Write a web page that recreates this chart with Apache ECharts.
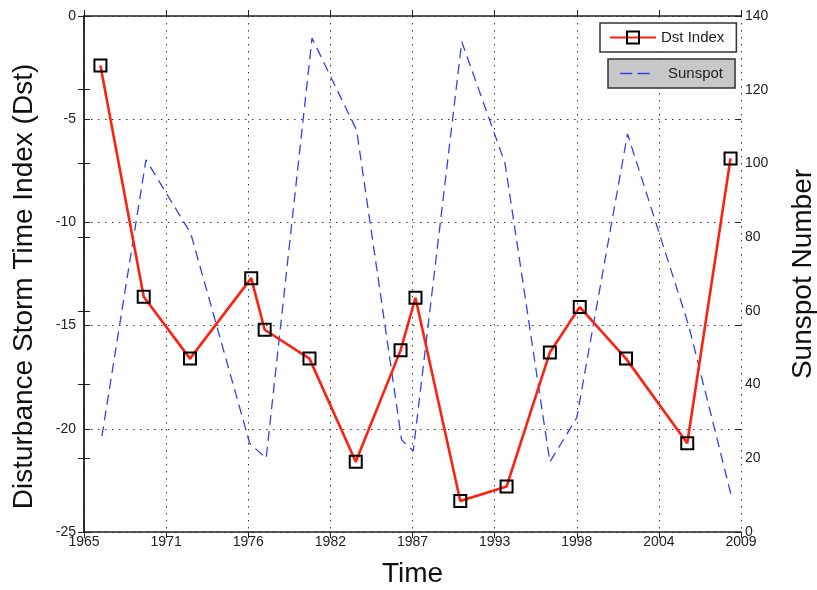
<!DOCTYPE html>
<html>
<head>
<meta charset="utf-8">
<script src="https://cdn.jsdelivr.net/npm/echarts@6/dist/echarts.min.js"></script>
<style>html,body{margin:0;padding:0;background:#fff;}#c{width:817px;height:590px;}</style>
</head>
<body>
<div id="c"></div>
<script>
// ---- data ----
const dstYears = [1966.1, 1969.0, 1972.1, 1976.2, 1977.1, 1980.1, 1983.2, 1986.2, 1987.2, 1990.2, 1993.3, 1996.2, 1998.2, 2001.3, 2005.4, 2008.3];
const dstValues = [-2.4, -13.6, -16.6, -12.7, -15.2, -16.6, -21.6, -16.2, -13.65, -23.5, -22.8, -16.3, -14.1, -16.6, -20.7, -6.9];
const sunYears = [1966.2, 1969.15, 1972.15, 1976.1, 1977.2, 1980.27, 1983.26, 1986.27, 1987.05, 1990.3, 1993.2, 1996.2, 1998.0, 2001.4, 2005.5, 2008.4];
const sunValues = [26, 101, 81, 24, 20, 134, 109, 25, 22, 133, 100, 19, 31, 108, 56, 9];
const xStart = 1965, xEnd = 2009, xStep = 5.5;
const dstRange = [-25, 0, 5];
const sunRange = [0, 140, 20];

const FONT = 'Liberation Sans, Arial, sans-serif';
const AX = '#222';
const toX = y => +(y - xStart).toFixed(3);

const chart = echarts.init(document.getElementById('c'), null, {renderer: 'canvas'});
const tickInside = {show: true, inside: true, length: 6, lineStyle: {color: AX, width: 1}};
const dotted = {show: true, lineStyle: {color: '#3a3a3a', width: 1, type: [1.5, 5.5]}};

chart.setOption({
  animation: false,
  backgroundColor: '#fff',
  grid: {left: 84, right: 76, top: 16, bottom: 58, containLabel: false, outerBoundsMode: 'none'},
  xAxis: [
    {type: 'value', position: 'bottom', min: 0, max: xEnd - xStart, interval: xStep,
     name: 'Time', nameLocation: 'middle', nameGap: 28,
     nameTextStyle: {fontFamily: FONT, fontSize: 28, color: '#111'},
     axisLine: {show: true, lineStyle: {color: AX, width: 1.5}},
     axisTick: tickInside,
     axisLabel: {margin: 3, fontFamily: FONT, fontSize: 14, color: '#222',
       formatter: v => String(Math.round(xStart + v)), showMinLabel: true, showMaxLabel: true},
     splitLine: dotted},
    {type: 'value', position: 'top', min: 0, max: xEnd - xStart, interval: xStep,
     axisLine: {show: true, lineStyle: {color: AX, width: 1.5}},
     axisTick: tickInside, axisLabel: {show: false}, splitLine: {show: false}}
  ],
  yAxis: [
    {type: 'value', position: 'left', min: dstRange[0], max: dstRange[1], interval: dstRange[2],
     name: 'Disturbance Storm Time Index (Dst)', nameLocation: 'middle', nameGap: 46,
     nameTextStyle: {fontFamily: FONT, fontSize: 28, color: '#111', padding: [0, 25, 0, 0]},
     axisLine: {show: true, lineStyle: {color: AX, width: 1.5}},
     axisTick: tickInside,
     axisLabel: {margin: 8, fontFamily: FONT, fontSize: 14, color: '#222'},
     splitLine: dotted},
    {type: 'value', position: 'right', min: sunRange[0], max: sunRange[1], interval: sunRange[2],
     name: 'Sunspot Number', nameLocation: 'middle', nameGap: 48,
     nameTextStyle: {fontFamily: FONT, fontSize: 28, color: '#111'},
     axisLine: {show: true, lineStyle: {color: AX, width: 1.5}},
     axisTick: tickInside,
     axisLabel: {margin: 4, fontFamily: FONT, fontSize: 14, color: '#222'},
     splitLine: {show: false}},
    {type: 'value', position: 'left', min: sunRange[0], max: sunRange[1], interval: sunRange[2],
     axisLine: {show: false}, axisTick: tickInside, axisLabel: {show: false}, splitLine: {show: false}},
    {type: 'value', position: 'right', min: dstRange[0], max: dstRange[1], interval: dstRange[2],
     axisLine: {show: false}, axisTick: tickInside, axisLabel: {show: false}, splitLine: {show: false}}
  ],
  legend: [
    {data: [{name: 'Dst Index'}], left: 600, top: 23, orient: 'vertical',
     padding: [7, 12, 7, 9], itemWidth: 46, itemHeight: 15,
     backgroundColor: '#fff', borderColor: '#333', borderWidth: 1.5, borderRadius: 0,
     textStyle: {fontFamily: FONT, fontSize: 15, color: '#222'}},
    {data: [{name: 'Sunspot', icon: 'path://M0,0h12v1.3h-12z M17,0h12v1.3h-12z M42,0h0.01v0.01h-0.01z'}],
     left: 608, top: 59, orient: 'vertical',
     padding: [7, 12, 7, 12], itemWidth: 43, itemHeight: 15,
     backgroundColor: '#c8c8c8', borderColor: '#333', borderWidth: 1.5, borderRadius: 0,
     textStyle: {fontFamily: FONT, fontSize: 15, color: '#222'}}
  ],
  series: [
    {name: 'Sunspot', type: 'line', xAxisIndex: 0, yAxisIndex: 1,
     data: sunYears.map((y, i) => [toX(y), sunValues[i]]),
     symbol: 'none', itemStyle: {color: '#3340f0'},
     lineStyle: {color: '#3340f0', width: 1.3, type: [10, 6]}, z: 3},
    {name: 'Dst Index', type: 'line', xAxisIndex: 0, yAxisIndex: 0,
     data: dstYears.map((y, i) => [toX(y), dstValues[i]]),
     symbol: 'rect', symbolSize: 12,
     itemStyle: {color: 'rgba(0,0,0,0)', borderColor: '#000', borderWidth: 2},
     lineStyle: {color: '#ff2010', width: 2.6}, z: 4}
  ]
});
</script>
</body>
</html>
